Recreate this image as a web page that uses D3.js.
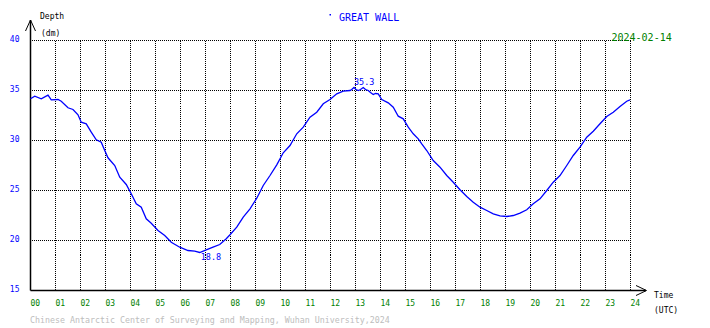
<!DOCTYPE html>
<html><head><meta charset="utf-8">
<script src="https://cdn.jsdelivr.net/npm/d3@7"></script>
<style>
body{margin:0;background:#fff}
svg{display:block}
text{font-family:"DejaVu Sans Mono","Liberation Mono",monospace}
</style>
</head><body>
<script>
// ---- data ----
const hours = [0,0.17,0.43,0.7,0.83,1.1,1.23,1.5,1.7,1.9,2.03,2.23,2.43,2.63,2.83,2.97,3.1,3.37,3.57,3.83,
  4.03,4.23,4.43,4.63,4.83,5.1,5.37,5.63,5.97,6.3,6.57,6.77,7.03,7.3,7.57,7.83,7.98,8.25,8.51,8.78,
  9.05,9.31,9.58,9.85,10.11,10.38,10.65,10.91,11.18,11.45,11.71,11.98,12.25,12.51,12.78,12.85,12.94,13.02,13.11,13.2,
  13.31,13.4,13.51,13.6,13.71,13.8,13.91,14.05,14.31,14.51,14.71,14.91,15.11,15.31,15.51,15.65,15.85,16.11,16.38,16.65,
  16.91,17.18,17.45,17.71,17.98,18.25,18.51,18.78,19.05,19.31,19.58,19.85,20.11,20.38,20.65,20.91,21.18,21.45,21.71,21.98,
  22.25,22.51,22.78,23.05,23.31,23.58,23.85,23.98];
const depth = [34.17,34.43,34.17,34.53,34.07,34.1,33.93,33.27,33.1,32.57,31.83,31.67,30.83,30.07,29.83,29.0,28.27,27.5,26.33,25.6,
  24.67,23.67,23.33,22.17,21.73,21.0,20.5,19.83,19.33,19.0,18.93,18.8,19.07,19.33,19.6,20.17,20.57,21.33,22.33,23.17,
  24.23,25.5,26.5,27.57,28.77,29.5,30.67,31.33,32.33,32.83,33.67,34.1,34.67,34.93,35.0,35.1,35.3,35.1,35.0,35.1,
  35.3,35.1,35.0,34.8,34.6,34.7,34.67,34.1,33.77,33.33,32.43,32.17,31.33,30.67,30.17,29.67,29.0,28.0,27.33,26.5,
  25.83,25.07,24.4,23.83,23.33,23.0,22.67,22.47,22.4,22.5,22.73,23.07,23.67,24.17,25.0,25.83,26.5,27.5,28.5,29.33,
  30.33,30.93,31.67,32.4,32.83,33.4,33.93,34.07];
const xTicks = d3.range(0, 25);
const xTickLabels = ["00","01","02","03","04","05","06","07","08","09","10","11","12","13","14","15","16","17","18","19","20","21","22","23","24"];
const yTicks = [15, 20, 25, 30, 35, 40];
const stationName = "GREAT WALL";
const dateLabel = "2024-02-14";
const footer = "Chinese Antarctic Center of Surveying and Mapping, Wuhan University,2024";

// ---- drawing ----
const W = 710, H = 328;
const svg = d3.select("body").append("svg").attr("width", W).attr("height", H);
const x = d3.scaleLinear().domain([0, 24]).range([30.5, 630.5]);
const y = d3.scaleLinear().domain([15, 40]).range([290.5, 40.5]);
const blue = "#0000ff", green = "#008000";

// grid
const grid = svg.append("g").attr("stroke", "#000").attr("stroke-width", 1)
  .attr("stroke-dasharray", "1,1").attr("shape-rendering", "crispEdges");
grid.selectAll("line.h").data(yTicks.filter(d => d > 15)).join("line")
  .attr("x1", x(0) + 1).attr("x2", x(24)).attr("y1", d => y(d)).attr("y2", d => y(d));
grid.selectAll("line.v").data(xTicks.filter(d => d > 0)).join("line")
  .attr("x1", d => x(d)).attr("x2", d => x(d)).attr("y1", y(40)).attr("y2", y(15));

// axes
const ax = svg.append("g").attr("stroke", "#000").attr("fill", "none").attr("stroke-width", 1.5);
ax.append("line").attr("x1", x(0)).attr("x2", x(0)).attr("y1", 20).attr("y2", y(15));
ax.append("line").attr("x1", x(0)).attr("x2", 646).attr("y1", y(15)).attr("y2", y(15));
ax.append("polyline").attr("stroke-width", 1).attr("points", `${x(0)-5},31 ${x(0)},20 ${x(0)+5},31`);
ax.append("polyline").attr("stroke-width", 1).attr("points", `636,285.5 646.5,${y(15)} 636,295.5`);

// y tick labels
svg.append("g").selectAll("text").data(yTicks).join("text")
  .attr("x", 19.5).attr("y", d => y(d) + 1).attr("text-anchor", "end")
  .attr("font-size", 8).attr("fill", blue).text(d => d);

// x tick labels
svg.append("g").selectAll("text").data(xTicks).join("text")
  .attr("x", d => x(d)).attr("y", 305.5)
  .attr("font-size", 8).attr("fill", green).text((d, i) => xTickLabels[i]);

// axis titles
svg.append("text").attr("x", 40).attr("y", 19).attr("font-size", 8).attr("fill", "#000").text("Depth");
svg.append("text").attr("x", 41).attr("y", 35.5).attr("font-size", 8).attr("fill", "#000").text("(dm)");
svg.append("text").attr("x", 654).attr("y", 297.5).attr("font-size", 8).attr("fill", "#000").text("Time");
svg.append("text").attr("x", 654).attr("y", 313).attr("font-size", 8).attr("fill", "#000").text("(UTC)");

// title
svg.append("rect").attr("x", 329.5).attr("y", 14).attr("width", 1.5).attr("height", 1.5).attr("fill", blue);
svg.append("text").attr("x", 339).attr("y", 21).attr("font-size", 10).attr("fill", blue).text(stationName);
svg.append("text").attr("x", 611.5).attr("y", 40.5).attr("font-size", 10).attr("fill", green).text(dateLabel);

// footer
svg.append("text").attr("x", 30).attr("y", 323).attr("font-size", 8.3).attr("fill", "#bdbdbd").text(footer);

// curve
const line = d3.line().x((d, i) => x(hours[i])).y(d => y(d));
svg.append("path").datum(depth).attr("d", line).attr("fill", "none")
  .attr("stroke", blue).attr("stroke-width", 1.3);

// max/min labels
const iMax = d3.maxIndex(depth), iMin = d3.minIndex(depth);
svg.append("text").attr("x", x(hours[iMax])).attr("y", y(depth[iMax]) - 2.5)
  .attr("font-size", 8.5).attr("fill", blue).text(depth[iMax].toFixed(1));
svg.append("text").attr("x", x(hours[iMin]) + 1).attr("y", y(depth[iMin]) + 7.5)
  .attr("font-size", 8.5).attr("fill", blue).text(depth[iMin].toFixed(1));
</script>
</body></html>
